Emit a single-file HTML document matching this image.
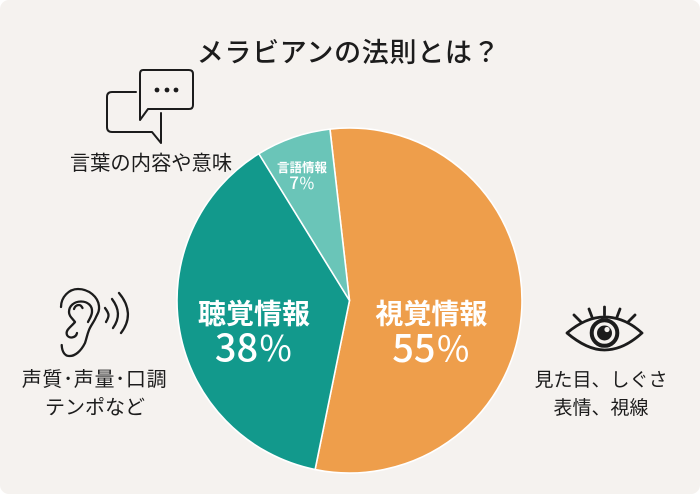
<!DOCTYPE html>
<html lang="ja">
<head>
<meta charset="utf-8">
<title>メラビアンの法則とは？</title>
<style>
html,body{margin:0;padding:0;background:#fff;}
svg{display:block;}
text{font-family:"Liberation Sans","Noto Sans CJK JP",sans-serif;text-anchor:middle;}
.lbl{fill:#1c1c1c;}
.ico{fill:none;stroke:#1c1c1c;stroke-linecap:round;stroke-linejoin:round;}
</style>
</head>
<body>
<svg id="chart" width="700" height="494" viewBox="0 0 700 494" xmlns="http://www.w3.org/2000/svg">
<rect width="700" height="494" rx="9" fill="#f5f2ef"/>
<text x="348.500" y="62" font-size="27" letter-spacing="0.7" font-weight="500" fill="#1c1c1c">メラビアンの法則とは？</text>
<g id="pie"></g>

<g class="ico" stroke-width="2">
<path d="M143 70H189Q193 70 193 74V105Q193 109 189 109H148L140 120V74Q140 70 143 70Z"/>
<path d="M136 92H112Q107 92 107 97V127Q107 132 112 132H152L161 143V113"/>
<g fill="#1c1c1c" stroke="none"><circle cx="157" cy="90" r="2.400"/><circle cx="167" cy="90" r="2.400"/><circle cx="176" cy="90" r="2.400"/></g>
</g>
<text class="lbl" x="151" y="170" style="font-size:20.300px">言葉の内容や意味</text>

<g class="ico" stroke-width="2.300">
<path d="M61.700 345C62 352 65 356 69 356C75 356.500 81 351 85 343C87 337 87 335 89 330C91 325 94 322 96 317C98 313 99.500 311 99 306C98 297 89 289 78 289C69 289 61 297 61 307"/>
<path d="M77 333C76 338 69 339 67 335C65 330 71 327 75 322C72 318 69 316 69 312C69 306 74 301.500 81 301.500C88 301.500 92.500 306 92 312C91.700 316 89.500 319 88 322"/>
<path d="M74 309C75 306 77 305 79 305C81 305 82 307 82.500 308"/>
<path d="M105 308C109.500 314 109.500 316 106 322"/>
<path d="M112 299C119.500 309 120 318 113 328"/>
<path d="M119 293C130 306 131 320 121 333"/>
</g>
<text class="lbl" x="94.500" y="386" letter-spacing="0.7" style="font-size:20px">声質･声量･口調</text>
<text class="lbl" x="95" y="414" style="font-size:20px">テンポなど</text>

<g class="ico" stroke-width="2.800">
<path d="M567 333C580 322 592 317 604.500 317C617 317 630 322 642 333C630 344 618 350 604.500 350C592 350 580 344 567 333Z"/>
<circle cx="604.500" cy="333" r="12.800" stroke-width="4"/>
<circle cx="604.500" cy="333" r="7.500" fill="#1c1c1c" stroke="none"/>
<circle cx="607" cy="329.500" r="2.600" fill="#f5f2ef" stroke="none"/>
<path d="M574 315L581 322M589 309L592 317M604.500 307V315M620 309L617 317M635 315L628 322"/>
</g>
<text class="lbl" x="601" y="386" style="font-size:19px">見た目、しぐさ</text>
<text class="lbl" x="601" y="414" style="font-size:19px">表情、視線</text>
</svg>
<script>
const categories = ['視覚情報', '聴覚情報', '言語情報'];
const shareValues = [55, 38, 7];

const NS = 'http://www.w3.org/2000/svg';
const pie = document.getElementById('pie');
const cx = 349.5, cy = 300.5, radius = 172.5, startDeg = -6.5;
const sliceStyles = [
  {fill:'#ee9e4b', r:82, dy:9.5, nameSize:28, valueSize:38, pctSize:35, gap:34.5},
  {fill:'#12998c', r:97, dy:-4, nameSize:28, valueSize:38, pctSize:35, gap:34.5},
  {fill:'#6ac5b8', r:145, dy:4, nameSize:12.5, valueSize:17, pctSize:16, gap:15.5}
];
const total = shareValues.reduce(function (a, b) { return a + b; }, 0);
function angleOf(cumulative) { return startDeg + cumulative / total * 360; }
function pointAt(deg, r) {
  const t = deg * Math.PI / 180;
  return [cx + r * Math.sin(t), cy - r * Math.cos(t)];
}
let running = 0;
categories.forEach(function (name, i) {
  const value = shareValues[i];
  const a0 = angleOf(running);
  const a1 = angleOf(running + value);
  running += value;
  const s = sliceStyles[i];
  const p0 = pointAt(a0, radius), p1 = pointAt(a1, radius);
  const large = (a1 - a0) > 180 ? 1 : 0;
  const path = document.createElementNS(NS, 'path');
  path.setAttribute('d', 'M' + cx + ' ' + cy + 'L' + p0[0] + ' ' + p0[1] + 'A' + radius + ' ' + radius + ' 0 ' + large + ' 1 ' + p1[0] + ' ' + p1[1] + 'Z');
  path.setAttribute('fill', s.fill);
  path.setAttribute('stroke', '#ffffff');
  path.setAttribute('stroke-width', '1.6');
  path.setAttribute('stroke-linejoin', 'round');
  
  
  pie.appendChild(path);
});
running = 0;
categories.forEach(function (name, i) {
  const value = shareValues[i];
  const mid = angleOf(running + value / 2);
  running += value;
  const s = sliceStyles[i];
  const c = pointAt(mid, s.r);
  const t1 = document.createElementNS(NS, 'text');
  t1.setAttribute('x', c[0]);
  t1.setAttribute('y', c[1] + s.dy + s.nameSize * 0.36);
  t1.setAttribute('font-size', s.nameSize);
  t1.setAttribute('font-weight', '700');
  t1.setAttribute('fill', '#ffffff');
  
  
  t1.textContent = name;
  pie.appendChild(t1);
  const t2 = document.createElementNS(NS, 'text');
  t2.setAttribute('x', c[0]);
  t2.setAttribute('y', c[1] + s.dy + s.gap + s.valueSize * 0.36);
  t2.setAttribute('fill', '#ffffff');
  
  
  const num = document.createElementNS(NS, 'tspan');
  num.setAttribute('font-size', s.valueSize);
  num.setAttribute('font-family', '"Noto Sans CJK JP", sans-serif');
  num.setAttribute('font-weight', '500');
  num.textContent = value;
  t2.appendChild(num);
  const pct = document.createElementNS(NS, 'tspan');
  pct.setAttribute('font-size', s.pctSize);
  pct.setAttribute('font-family', '"Noto Sans CJK JP", sans-serif');
  pct.textContent = '％';
  t2.appendChild(pct);
  pie.appendChild(t2);
});
</script>
</body>
</html>
